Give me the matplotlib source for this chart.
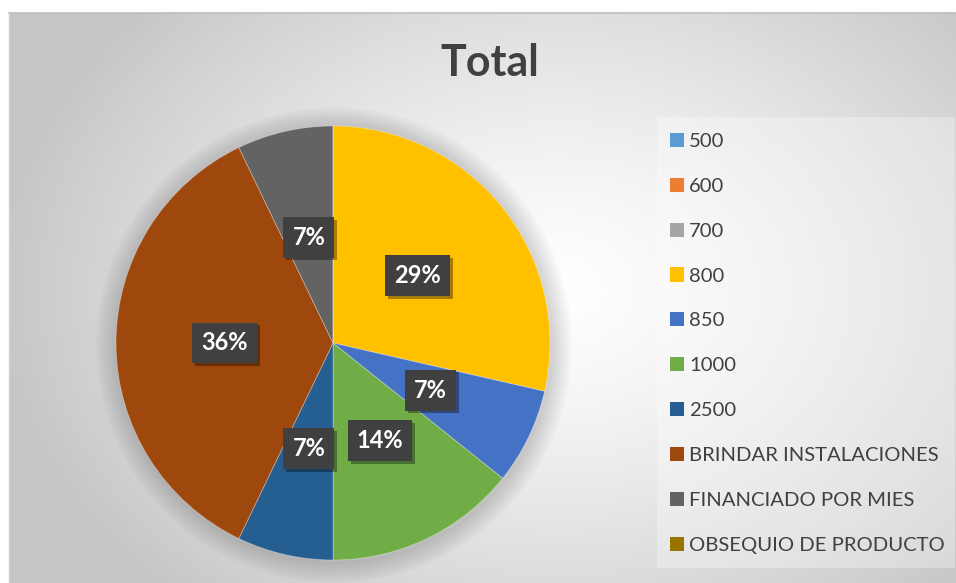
import numpy as np
import matplotlib
matplotlib.use("Agg")
import matplotlib.pyplot as plt
import matplotlib.patheffects as pe
from matplotlib.patches import Rectangle, Circle

# ---- data ----
categories = ["500", "600", "700", "800", "850", "1000", "2500",
              "BRINDAR INSTALACIONES", "FINANCIADO POR MIES", "OBSEQUIO DE PRODUCTO"]
counts = [0, 0, 0, 4, 1, 2, 1, 5, 1, 0]
colors = ["#5B9BD5", "#ED7D31", "#A5A5A5", "#FFC000", "#4472C4", "#70AD47",
          "#255E91", "#9E480E", "#636363", "#997300"]
title = "Total"

W, H = 956, 583
fig = plt.figure(figsize=(W / 100, H / 100), dpi=100)
fig.patch.set_facecolor("white")

plt.rcParams["font.family"] = ["Lato", "DejaVu Sans"]

# ---- background radial gradient (chart area) ----
x0, y0 = 9, 13
bg = fig.add_axes([x0 / W, 0, 1 - x0 / W, (H - y0) / H])
bg.set_axis_off()
gx = np.linspace(x0, W, 400)
gy = np.linspace(y0, H, 260)
X, Y = np.meshgrid(gx, gy)
cx, cy = 560, 290
d = np.sqrt(((X - cx) / 560) ** 2 + ((Y - cy) / 420) ** 2)
d = np.clip(d, 0, 1)
v = 1.0 - 0.22 * d ** 1.3
img = np.dstack([v, v, v])
bg.imshow(img, extent=[0, 1, 0, 1], aspect="auto", origin="upper")
bg.set_xlim(0, 1)
bg.set_ylim(0, 1)
bg.plot([0, 1], [1, 1], color="#bdbdbd", lw=1.2, transform=bg.transAxes, clip_on=False)
bg.plot([0, 0], [0, 1], color="#d0d0d0", lw=1.0, transform=bg.transAxes, clip_on=False)

# legend background box
lx0, lx1, ly0, ly1 = 657, 955, 117, 568
fig.patches.append(Rectangle((lx0 / W, 1 - ly1 / H), (lx1 - lx0) / W, (ly1 - ly0) / H,
                             transform=fig.transFigure, facecolor="white", alpha=0.3,
                             edgecolor="none", zorder=1))

# ---- pie ----
pcx, pcy, r = 333, 343, 217
ax = fig.add_axes([(pcx - r) / W, (H - pcy - r) / H, 2 * r / W, 2 * r / H])
ax.set_zorder(3)

# soft shadow halo
for i in range(8):
    c = Circle((0.005, -0.01), 1.0 + 0.012 * (i + 1), facecolor="black",
               alpha=0.018, edgecolor="none", zorder=0)
    c.set_clip_on(False)
    ax.add_patch(c)

def fmt(p):
    return f"{p:.0f}%" if p > 0.5 else ""

wedges, texts, autotexts = ax.pie(
    counts, colors=colors, startangle=90, counterclock=False,
    autopct=fmt, pctdistance=0.5, radius=1.0,
    wedgeprops=dict(edgecolor=(1, 1, 1, 0.35), linewidth=0.6),
    textprops=dict(color="white", fontsize=17, fontweight="bold"))
for w in wedges:
    w.set_zorder(2)
for t in autotexts:
    t.set_zorder(5)
    t.set_bbox(dict(boxstyle="square,pad=0.38", facecolor="#404040", edgecolor="none"))
    t.get_bbox_patch().set_path_effects(
        [pe.withSimplePatchShadow(offset=(2, -2), shadow_rgbFace="black", alpha=0.35)])
ax.set_xlim(-1, 1)
ax.set_ylim(-1, 1)
ax.set_aspect("equal")
ax.set_axis_off()

# ---- title ----
fig.text(490 / W, 1 - 63 / H, title, ha="center", va="center", fontsize=31,
         fontweight="bold", color="#404040", zorder=5)

# ---- legend ----
fs = 14.6
leg = fig.legend(wedges, categories, loc="upper left",
                 bbox_to_anchor=(670 / W, 1 - 132.7 / H), frameon=False,
                 fontsize=fs, handlelength=0.69, handleheight=0.69,
                 handletextpad=0.25, labelspacing=1.37, borderpad=0, borderaxespad=0)
for t in leg.get_texts():
    t.set_color("#404040")
for h in leg.legend_handles:
    h.set_edgecolor("none")
leg.set_zorder(6)

fig.savefig("out.png", dpi=100, facecolor=fig.get_facecolor())
